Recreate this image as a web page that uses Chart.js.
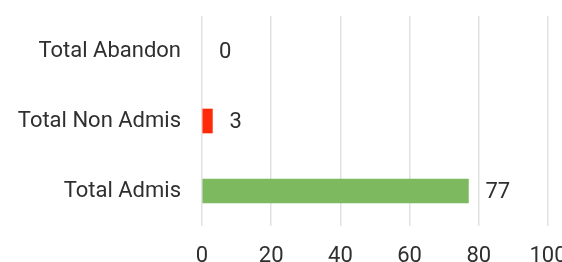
<!DOCTYPE html>
<html>
<head>
<meta charset="utf-8">
<script src="https://cdn.jsdelivr.net/npm/chart.js@4"></script>
<style>
  html, body { margin: 0; padding: 0; background: #fff; overflow: hidden; }
  #wrap { width: 562px; height: 262px; position: relative; }
</style>
</head>
<body>
<div id="wrap"><canvas id="barChart"></canvas></div>
<script>
// Dados do gráfico
const categorias = ['Total Abandon', 'Total Non Admis', 'Total Admis'];
const valores = [0, 3, 77];
const cores = ['rgba(0,0,0,0)', '#ff2a0a', '#7cb95f'];
const ticksX = [0, 20, 40, 60, 80, 100];

const fonte = { family: 'Roboto', size: 22 };
const corTexto = '#2f2f2f';

// Rótulos de valor ao lado das barras
const rotulosPlugin = {
    id: 'rotulos',
    afterDatasetsDraw(chart) {
        const c = chart.ctx;
        const meta = chart.getDatasetMeta(0);
        c.save();
        c.font = fonte.size + 'px ' + fonte.family;
        c.fillStyle = corTexto;
        c.textAlign = 'left';
        c.textBaseline = 'middle';
        meta.data.forEach((bar, i) => {
            c.fillText(String(valores[i]), bar.x + 17, bar.y + 1);
        });
        c.restore();
    }
};

const ctx = document.getElementById('barChart').getContext('2d');
const config = {
    type: 'bar',
    data: {
        labels: categorias,
        datasets: [{
            data: valores,
            backgroundColor: cores,
            barThickness: 24,
            borderWidth: 0
        }]
    },
    options: {
        indexAxis: 'y',
        responsive: true,
        maintainAspectRatio: false,
        animation: false,
        layout: { padding: { top: 16, right: 14, left: 0, bottom: 0 } },
        plugins: {
            legend: { display: false },
            tooltip: { enabled: false }
        },
        scales: {
            x: {
                min: 0,
                max: 100,
                afterBuildTicks: (scale) => { scale.ticks = ticksX.map(v => ({ value: v })); },
                afterFit: (scale) => { scale.height = 36; scale.paddingRight = 0; scale.paddingLeft = 0; },
                grid: { color: '#e2e2e2', lineWidth: 1.5, drawTicks: false },
                border: { display: false },
                ticks: { font: fonte, color: corTexto, padding: 17 }
            },
            y: {
                afterFit: (scale) => { scale.width = 202; scale.paddingTop = 0; scale.paddingBottom = 0; },
                grid: { display: false, drawTicks: false },
                border: { display: false },
                ticks: { font: fonte, color: corTexto, padding: 21 }
            }
        }
    },
    plugins: [rotulosPlugin]
};

const barChart = new Chart(ctx, config);
</script>
</body>
</html>
